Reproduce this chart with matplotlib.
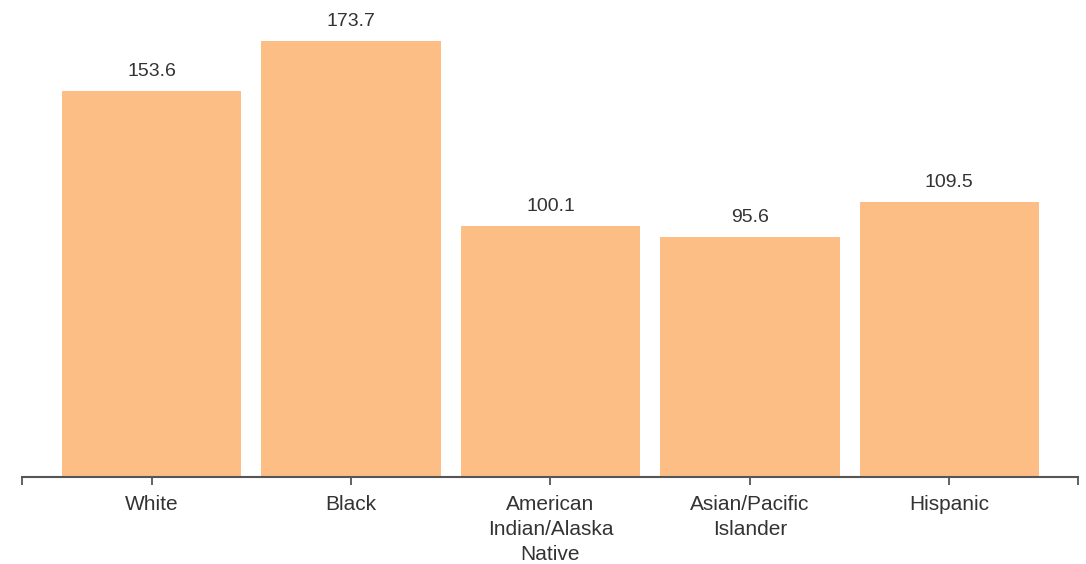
import matplotlib.pyplot as plt
import numpy as np

# Rates by race/ethnicity
groups = ['White', 'Black', 'American\nIndian/Alaska\nNative', 'Asian/Pacific\nIslander', 'Hispanic']
rates = [153.6, 173.7, 100.1, 95.6, 109.5]

plt.rcParams['font.family'] = ['Liberation Sans', 'DejaVu Sans']

fig = plt.figure(figsize=(10.86, 5.64), dpi=100)
ax = fig.add_axes([22 / 1086, 87 / 564, 1056 / 1086, 477 / 564])

x = np.arange(len(groups))
bars = ax.bar(x, rates, width=0.9, color='#fdbe85', zorder=1)
ax.bar_label(bars, labels=[f'{v:.1f}' for v in rates], padding=8,
             fontsize=14, color='#333333')

ax.set_xlim(-0.65, len(groups) - 1 + 0.645)
ax.set_ylim(0, 190)

ax.set_xticks(x)
ax.set_xticklabels(groups, fontsize=15, color='#333333', linespacing=1.4)
ax.set_xticks(ax.get_xlim(), minor=True)
ax.tick_params(axis='x', which='both', length=6, width=1.3, color='#555555', pad=7)
ax.set_yticks([])

for side in ['top', 'right', 'left']:
    ax.spines[side].set_visible(False)
ax.spines['bottom'].set_color('#555555')
ax.spines['bottom'].set_linewidth(1.5)
ax.spines['bottom'].set_zorder(3)

fig.savefig('out.png', dpi=100)
